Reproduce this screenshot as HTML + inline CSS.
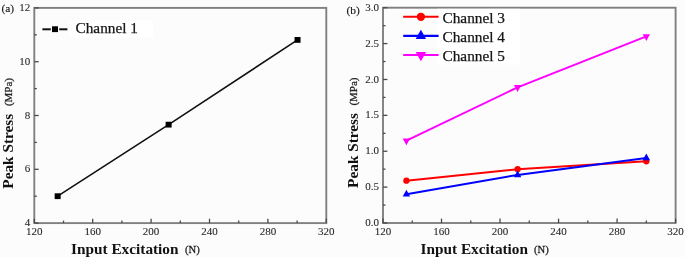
<!DOCTYPE html>
<html><head><meta charset="utf-8"><style>
html,body{margin:0;padding:0;background:#fff;}
body{width:685px;height:257px;overflow:hidden;}
svg{display:block;will-change:transform;}
text{font-family:"Liberation Serif", serif;fill:#222;}
.n{font-size:11px;fill:#2a2a2a;stroke:#2a2a2a;stroke-width:0.1px;}
.lg{font-size:15.3px;fill:#151515;stroke:#151515;stroke-width:0.25px;}
.ab{font-size:11.4px;fill:#1a1a1a;stroke:#1a1a1a;stroke-width:0.15px;}
.t{font-size:15.3px;font-weight:bold;fill:#111;}
.u{font-size:11px;fill:#222;stroke:#222;stroke-width:0.28px;}
.un{font-size:10.6px;fill:#222;stroke:#222;stroke-width:0.28px;}
</style></head><body>
<svg width="685" height="257" viewBox="0 0 685 257">
<rect width="685" height="257" fill="#fcfcfc"/>
<rect x="34.3" y="7.9" width="292" height="215.2" fill="none" stroke="#808080" stroke-width="1.9"/>
<line x1="34.3" y1="223.1" x2="34.3" y2="218.7" stroke="#4a4a4a" stroke-width="1.3"/>
<line x1="92.7" y1="223.1" x2="92.7" y2="218.7" stroke="#4a4a4a" stroke-width="1.3"/>
<line x1="151.1" y1="223.1" x2="151.1" y2="218.7" stroke="#4a4a4a" stroke-width="1.3"/>
<line x1="209.5" y1="223.1" x2="209.5" y2="218.7" stroke="#4a4a4a" stroke-width="1.3"/>
<line x1="267.9" y1="223.1" x2="267.9" y2="218.7" stroke="#4a4a4a" stroke-width="1.3"/>
<line x1="326.3" y1="223.1" x2="326.3" y2="218.7" stroke="#4a4a4a" stroke-width="1.3"/>
<line x1="63.5" y1="223.1" x2="63.5" y2="220.6" stroke="#4a4a4a" stroke-width="1.3"/>
<line x1="121.9" y1="223.1" x2="121.9" y2="220.6" stroke="#4a4a4a" stroke-width="1.3"/>
<line x1="180.3" y1="223.1" x2="180.3" y2="220.6" stroke="#4a4a4a" stroke-width="1.3"/>
<line x1="238.7" y1="223.1" x2="238.7" y2="220.6" stroke="#4a4a4a" stroke-width="1.3"/>
<line x1="297.1" y1="223.1" x2="297.1" y2="220.6" stroke="#4a4a4a" stroke-width="1.3"/>
<line x1="34.3" y1="223.1" x2="38.7" y2="223.1" stroke="#4a4a4a" stroke-width="1.3"/>
<line x1="34.3" y1="169.3" x2="38.7" y2="169.3" stroke="#4a4a4a" stroke-width="1.3"/>
<line x1="34.3" y1="115.5" x2="38.7" y2="115.5" stroke="#4a4a4a" stroke-width="1.3"/>
<line x1="34.3" y1="61.7" x2="38.7" y2="61.7" stroke="#4a4a4a" stroke-width="1.3"/>
<line x1="34.3" y1="7.9" x2="38.7" y2="7.9" stroke="#4a4a4a" stroke-width="1.3"/>
<line x1="34.3" y1="196.2" x2="36.8" y2="196.2" stroke="#4a4a4a" stroke-width="1.3"/>
<line x1="34.3" y1="142.4" x2="36.8" y2="142.4" stroke="#4a4a4a" stroke-width="1.3"/>
<line x1="34.3" y1="88.6" x2="36.8" y2="88.6" stroke="#4a4a4a" stroke-width="1.3"/>
<line x1="34.3" y1="34.8" x2="36.8" y2="34.8" stroke="#4a4a4a" stroke-width="1.3"/>
<text x="30.3" y="226.2" text-anchor="end" class="n">4</text>
<text x="30.3" y="172.4" text-anchor="end" class="n">6</text>
<text x="30.3" y="118.6" text-anchor="end" class="n">8</text>
<text x="30.3" y="64.8" text-anchor="end" class="n">10</text>
<text x="30.3" y="11" text-anchor="end" class="n">12</text>
<text x="34.3" y="235" text-anchor="middle" class="n">120</text>
<text x="92.7" y="235" text-anchor="middle" class="n">160</text>
<text x="151.1" y="235" text-anchor="middle" class="n">200</text>
<text x="209.5" y="235" text-anchor="middle" class="n">240</text>
<text x="267.9" y="235" text-anchor="middle" class="n">280</text>
<text x="326.3" y="235" text-anchor="middle" class="n">320</text>
<polyline points="57.66,196.2 168.62,124.65 297.54,39.91" fill="none" stroke="#111" stroke-width="1.6"/>
<rect x="54.66" y="193.3" width="6" height="5.8" fill="#000"/>
<rect x="165.62" y="121.75" width="6" height="5.8" fill="#000"/>
<rect x="294.54" y="37.01" width="6" height="5.8" fill="#000"/>
<rect x="69" y="20.5" width="84" height="17" fill="#fff"/>
<line x1="42.4" y1="29.3" x2="50.8" y2="29.3" stroke="#111" stroke-width="2"/>
<line x1="59.2" y1="29.3" x2="67.4" y2="29.3" stroke="#111" stroke-width="2"/>
<rect x="52" y="26.3" width="6" height="5.8" fill="#000"/>
<text x="75.5" y="33" class="lg">Channel 1</text>
<text x="1.5" y="12" class="ab">(a)</text>
<text x="71" y="253.5" class="t">Input Excitation</text>
<text x="185" y="252.6" class="un">(N)</text>
<text transform="translate(13,188.7) rotate(-90)" class="t">Peak Stress</text>
<text transform="translate(12,106.1) rotate(-90)" class="u">(MPa)</text>
<rect x="383" y="7.7" width="292.6" height="215.3" fill="none" stroke="#808080" stroke-width="1.9"/>
<line x1="383" y1="223" x2="383" y2="218.6" stroke="#4a4a4a" stroke-width="1.3"/>
<line x1="441.52" y1="223" x2="441.52" y2="218.6" stroke="#4a4a4a" stroke-width="1.3"/>
<line x1="500.04" y1="223" x2="500.04" y2="218.6" stroke="#4a4a4a" stroke-width="1.3"/>
<line x1="558.56" y1="223" x2="558.56" y2="218.6" stroke="#4a4a4a" stroke-width="1.3"/>
<line x1="617.08" y1="223" x2="617.08" y2="218.6" stroke="#4a4a4a" stroke-width="1.3"/>
<line x1="675.6" y1="223" x2="675.6" y2="218.6" stroke="#4a4a4a" stroke-width="1.3"/>
<line x1="412.26" y1="223" x2="412.26" y2="220.5" stroke="#4a4a4a" stroke-width="1.3"/>
<line x1="470.78" y1="223" x2="470.78" y2="220.5" stroke="#4a4a4a" stroke-width="1.3"/>
<line x1="529.3" y1="223" x2="529.3" y2="220.5" stroke="#4a4a4a" stroke-width="1.3"/>
<line x1="587.82" y1="223" x2="587.82" y2="220.5" stroke="#4a4a4a" stroke-width="1.3"/>
<line x1="646.34" y1="223" x2="646.34" y2="220.5" stroke="#4a4a4a" stroke-width="1.3"/>
<line x1="383" y1="223" x2="387.4" y2="223" stroke="#4a4a4a" stroke-width="1.3"/>
<line x1="383" y1="187.12" x2="387.4" y2="187.12" stroke="#4a4a4a" stroke-width="1.3"/>
<line x1="383" y1="151.23" x2="387.4" y2="151.23" stroke="#4a4a4a" stroke-width="1.3"/>
<line x1="383" y1="115.35" x2="387.4" y2="115.35" stroke="#4a4a4a" stroke-width="1.3"/>
<line x1="383" y1="79.47" x2="387.4" y2="79.47" stroke="#4a4a4a" stroke-width="1.3"/>
<line x1="383" y1="43.58" x2="387.4" y2="43.58" stroke="#4a4a4a" stroke-width="1.3"/>
<line x1="383" y1="7.7" x2="387.4" y2="7.7" stroke="#4a4a4a" stroke-width="1.3"/>
<line x1="383" y1="205.06" x2="385.5" y2="205.06" stroke="#4a4a4a" stroke-width="1.3"/>
<line x1="383" y1="169.17" x2="385.5" y2="169.17" stroke="#4a4a4a" stroke-width="1.3"/>
<line x1="383" y1="133.29" x2="385.5" y2="133.29" stroke="#4a4a4a" stroke-width="1.3"/>
<line x1="383" y1="97.41" x2="385.5" y2="97.41" stroke="#4a4a4a" stroke-width="1.3"/>
<line x1="383" y1="61.53" x2="385.5" y2="61.53" stroke="#4a4a4a" stroke-width="1.3"/>
<line x1="383" y1="25.64" x2="385.5" y2="25.64" stroke="#4a4a4a" stroke-width="1.3"/>
<text x="379" y="226.1" text-anchor="end" class="n">0.0</text>
<text x="379" y="190.22" text-anchor="end" class="n">0.5</text>
<text x="379" y="154.33" text-anchor="end" class="n">1.0</text>
<text x="379" y="118.45" text-anchor="end" class="n">1.5</text>
<text x="379" y="82.57" text-anchor="end" class="n">2.0</text>
<text x="379" y="46.68" text-anchor="end" class="n">2.5</text>
<text x="379" y="10.8" text-anchor="end" class="n">3.0</text>
<text x="383" y="235" text-anchor="middle" class="n">120</text>
<text x="441.52" y="235" text-anchor="middle" class="n">160</text>
<text x="500.04" y="235" text-anchor="middle" class="n">200</text>
<text x="558.56" y="235" text-anchor="middle" class="n">240</text>
<text x="617.08" y="235" text-anchor="middle" class="n">280</text>
<text x="675.6" y="235" text-anchor="middle" class="n">320</text>
<polyline points="406.41,180.66 517.6,169.17 646.34,161.28" fill="none" stroke="#ff0000" stroke-width="2"/>
<circle cx="406.41" cy="180.66" r="3.15" fill="#ff0000"/>
<circle cx="517.6" cy="169.17" r="3.15" fill="#ff0000"/>
<circle cx="646.34" cy="161.28" r="3.15" fill="#ff0000"/>
<polyline points="406.41,194.29 517.6,174.92 646.34,158.05" fill="none" stroke="#0000ff" stroke-width="2"/>
<polygon points="406.41,189.76 410.11,196.56 402.71,196.56" fill="#0000ff"/>
<polygon points="517.6,170.38 521.3,177.18 513.9,177.18" fill="#0000ff"/>
<polygon points="646.34,153.52 650.04,160.32 642.64,160.32" fill="#0000ff"/>
<polyline points="406.41,140.68 517.6,87.36 646.34,36.41" fill="none" stroke="#ff00ff" stroke-width="2"/>
<polygon points="402.71,138.42 410.11,138.42 406.41,145.22" fill="#ff00ff"/>
<polygon points="513.9,85.09 521.3,85.09 517.6,91.89" fill="#ff00ff"/>
<polygon points="642.64,34.14 650.04,34.14 646.34,40.94" fill="#ff00ff"/>
<rect x="437" y="8.8" width="83" height="55.7" fill="#fff"/>
<line x1="403.2" y1="16.8" x2="438.6" y2="16.8" stroke="#ff0000" stroke-width="2.1"/>
<circle cx="420.9" cy="16.8" r="4.15" fill="#ff0000"/>
<text x="442.5" y="23.3" class="lg">Channel 3</text>
<line x1="403.2" y1="35.9" x2="438.6" y2="35.9" stroke="#0000ff" stroke-width="2.1"/>
<polygon points="420.9,29.7 426.1,39 415.7,39" fill="#0000ff"/>
<text x="442.5" y="42" class="lg">Channel 4</text>
<line x1="403.2" y1="55.0" x2="438.6" y2="55.0" stroke="#ff00ff" stroke-width="2.1"/>
<polygon points="415.7,51.9 426.1,51.9 420.9,61.2" fill="#ff00ff"/>
<text x="442.5" y="60.9" class="lg">Channel 5</text>
<text x="346.5" y="13.6" class="ab">(b)</text>
<text x="420.5" y="253.5" class="t">Input Excitation</text>
<text x="534" y="252.6" class="un">(N)</text>
<text transform="translate(357.5,187.9) rotate(-90)" class="t">Peak Stress</text>
<text transform="translate(356.6,105.6) rotate(-90)" class="u">(MPa)</text>
</svg>
</body></html>
